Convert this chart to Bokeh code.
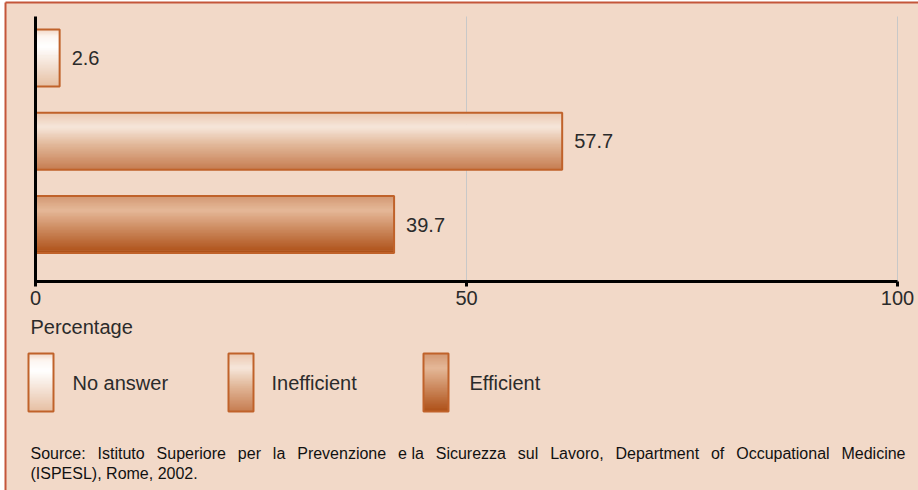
from bokeh.plotting import figure
from bokeh.models import Range1d, LinearAxis, FixedTicker, ColumnDataSource
from bokeh.core.properties import value
from bokeh.embed import file_html
from bokeh.resources import INLINE

# ---------------- data ----------------
categories = ["No answer", "Inefficient", "Efficient"]
values = [2.6, 57.7, 39.7]            # printed value labels
bar_lengths = [2.8, 61.1, 41.6]       # bar lengths as drawn in the picture
x_ticks = [0, 50, 100]
grid_ticks = [50, 100]
x_title = "Percentage"
source_lines = [
    "Source: Istituto Superiore per la Prevenzione e la Sicurezza sul Lavoro, Department of Occupational Medicine",
    "(ISPESL), Rome, 2002.",
]

# ---------------- styles ----------------
W, H = 918, 490
BG = "#f2d9c8"
FRAME_RED = "#c4563a"
OUTLINE = "#c0622a"
TXT = "#2b2b2b"
FONT = "Liberation Sans"
gradients = {
    "No answer": [(0.0, "#f1d6c4"), (0.12, "#fdf5f0"), (0.3, "#ffffff"), (1.0, "#e6bfa2")],
    "Inefficient": [(0.0, "#ebc8b0"), (0.25, "#f6e6da"), (0.55, "#e2b99b"), (1.0, "#c67c50")],
    "Efficient": [(0.0, "#d39873"), (0.25, "#e5b898"), (1.0, "#ad4f16")],
}

# layout (pixels in the page)
X0_PX, X100_PX = 35.0, 897.0
CAT_TOP_PX, CAT_BOT_PX = 57.5, 224.0
AXIS_PX, PLOT_TOP_PX = 280.5, 16.0
BAR_H = 0.685

n = len(categories)
ypos = [n - 1 - i for i in range(n)]
sx = (X100_PX - X0_PX) / 100.0
sy = (CAT_BOT_PX - CAT_TOP_PX) / (n - 1)
x_start = -X0_PX / sx
x_end = 100 + (W - X100_PX) / sx
y_end = (n - 1) + CAT_TOP_PX / sy
y_start = -(H - CAT_BOT_PX) / sy
y_bottom = -(AXIS_PX - CAT_BOT_PX) / sy
y_top = (n - 1) + (CAT_TOP_PX - PLOT_TOP_PX) / sy


def hex2rgb(h):
    h = h.lstrip("#")
    return tuple(int(h[i:i + 2], 16) for i in (0, 2, 4))


def interp(stops, t):
    for (t0, c0), (t1, c1) in zip(stops[:-1], stops[1:]):
        if t <= t1:
            f = 0 if t1 == t0 else (t - t0) / (t1 - t0)
            a, b = hex2rgb(c0), hex2rgb(c1)
            return "#%02x%02x%02x" % tuple(round(a[k] + (b[k] - a[k]) * f) for k in range(3))
    return stops[-1][1]


def stripes(left, right, top, bottom, stops, N=40):
    L, R, T, B, C = [], [], [], [], []
    h = bottom - top
    for k in range(N):
        t0, t1 = k / N, (k + 1) / N
        L.append(left)
        R.append(right)
        T.append(top + t0 * h)
        B.append(top + min(1.0, t1 + 0.5 / N) * h)
        C.append(interp(stops, (t0 + t1) / 2))
    return L, R, T, B, C


# Helvetica/Arial advance widths (1/1000 em) used to justify the first source line
AW = dict(zip("ABCDEFGHIJKLMNOPQRSTUVWXYZ",
              [667, 667, 722, 722, 667, 611, 778, 722, 278, 500, 667, 556, 833, 722, 778, 667, 778,
               722, 667, 611, 722, 667, 944, 667, 667, 611]))
AW.update(zip("abcdefghijklmnopqrstuvwxyz",
              [556, 556, 500, 556, 556, 278, 556, 556, 222, 222, 500, 222, 833, 556, 556, 556, 556,
               333, 500, 278, 556, 500, 722, 500, 500, 500]))
AW.update({" ": 278, "(": 333, ")": 333, ",": 278, ".": 278, ":": 278})
for d in "0123456789":
    AW[d] = 556


def text_w(s, size):
    return sum(AW.get(c, 556) for c in s) * size / 1000.0


p = figure(width=W, height=H, x_range=Range1d(x_start, x_end), y_range=Range1d(y_start, y_end),
           output_backend="svg", toolbar_location=None, min_border=0,
           x_axis_type=None, y_axis_type=None,
           background_fill_color="white", border_fill_color="white", outline_line_color=None)
p.extra_x_ranges = {"px": Range1d(0, W)}
p.extra_y_ranges = {"px": Range1d(H, 0)}

# panel + frame lines
p.quad(left=[5], right=[W], top=[2], bottom=[H], fill_color=BG, line_color=None,
       x_range_name="px", y_range_name="px")
p.segment(x0=[5, 5], y0=[2, 2], x1=[5, W], y1=[H, 2], line_color=FRAME_RED, line_width=2,
          x_range_name="px", y_range_name="px")

# grid lines
p.segment(x0=grid_ticks, y0=[y_bottom] * len(grid_ticks), x1=grid_ticks, y1=[y_top] * len(grid_ticks),
          line_color="#c8c8c8", line_width=1)

# bars with gradient
sL, sR, sT, sB, sC = [], [], [], [], []
for cat, length, y in zip(categories, bar_lengths, ypos):
    L, R, T, B, C = stripes(0, length, y + BAR_H / 2, y - BAR_H / 2, gradients[cat])
    sL += L; sR += R; sT += T; sB += B; sC += C
p.quad(source=ColumnDataSource(dict(left=sL, right=sR, top=sT, bottom=sB, color=sC)),
       left="left", right="right", top="top", bottom="bottom", fill_color="color", line_color=None)
p.quad(left=[0] * n, right=bar_lengths, top=[y + BAR_H / 2 for y in ypos],
       bottom=[y - BAR_H / 2 for y in ypos], fill_color=None, line_color=OUTLINE, line_width=2)

# value labels
p.text(x=bar_lengths, y=ypos, text=[str(v) for v in values], x_offset=12,
       text_baseline="middle", text_align="left", text_font=value(FONT),
       text_font_size="20px", text_color=TXT)

# axes
xaxis = LinearAxis(fixed_location=y_bottom, bounds=(0, 100), ticker=FixedTicker(ticks=x_ticks),
                   axis_line_width=3, axis_line_color="black",
                   major_tick_line_width=3, major_tick_line_color="black",
                   major_tick_in=0, major_tick_out=5, minor_tick_line_color=None,
                   major_label_text_font_size="20px", major_label_text_font=FONT,
                   major_label_text_color=TXT, major_label_standoff=5)
p.add_layout(xaxis, "below")
yaxis = LinearAxis(fixed_location=0, bounds=(y_bottom - 0.02, y_top), ticker=FixedTicker(ticks=[]),
                   axis_line_width=3, axis_line_color="black",
                   major_tick_line_color=None, minor_tick_line_color=None,
                   major_label_text_font_size="0px")
p.add_layout(yaxis, "left")

# axis title
p.text(x=[30], y=[326], text=[x_title], text_baseline="middle", text_align="left",
       text_font=value(FONT), text_font_size="20px", text_color=TXT,
       x_range_name="px", y_range_name="px")

# legend
leg_sw_x = [28, 228, 423]
leg_txt_x = [72, 271, 469]
lL, lR, lT, lB, lC = [], [], [], [], []
for cat, lx in zip(categories, leg_sw_x):
    L, R, T, B, C = stripes(lx, lx + 25, 353, 411, gradients[cat])
    lL += L; lR += R; lT += T; lB += B; lC += C
p.quad(source=ColumnDataSource(dict(left=lL, right=lR, top=lT, bottom=lB, color=lC)),
       left="left", right="right", top="top", bottom="bottom", fill_color="color", line_color=None,
       x_range_name="px", y_range_name="px")
p.quad(left=leg_sw_x, right=[x + 25 for x in leg_sw_x], top=[353] * n, bottom=[411] * n,
       fill_color=None, line_color=OUTLINE, line_width=2, x_range_name="px", y_range_name="px")
p.text(x=leg_txt_x, y=[382] * n, text=categories, text_baseline="middle", text_align="left",
       text_font=value(FONT), text_font_size="20px", text_color=TXT,
       x_range_name="px", y_range_name="px")

# source note: first line justified between x=30 and x=905, second line left-aligned.
# Words with neither tall letters nor descenders are joined to the next word so every
# piece shares the same baseline.
SRC_SIZE = 16
TALL = set("ABCDEFGHIJKLMNOPQRSTUVWXYZbdfhkltgjpqy(0123456789")
pieces, buf = [], ""
for w in source_lines[0].split(" "):
    buf = w if not buf else buf + " " + w
    if any(c in TALL for c in buf):
        pieces.append(buf)
        buf = ""
if buf:
    pieces.append(buf)
pw = [text_w(s, SRC_SIZE) for s in pieces]
gap = (905 - 30 - sum(pw)) / (len(pieces) - 1)
wx, cur = [], 30.0
for w in pw:
    wx.append(cur)
    cur += w + gap
p.text(x=wx + [30], y=[453] * len(pieces) + [473], text=pieces + [source_lines[1]],
       text_baseline="alphabetic", text_align="left",
       text_font=value(FONT), text_font_size="%dpx" % SRC_SIZE, text_color="#111111",
       x_range_name="px", y_range_name="px")

open("out.html", "w").write(file_html(p, INLINE))
